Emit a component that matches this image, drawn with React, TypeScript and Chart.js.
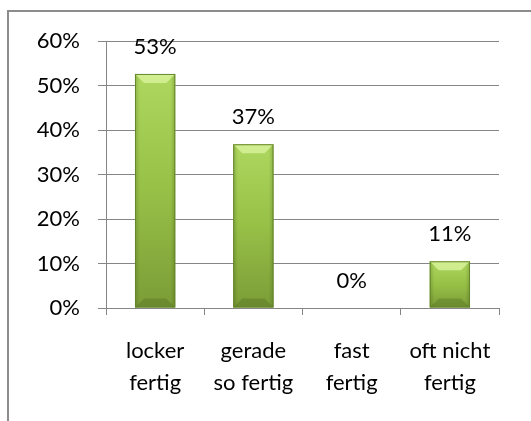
import React, { useEffect, useRef } from 'react';
import { Chart, registerables } from 'chart.js';
Chart.register(...registerables);

const categories: string[][] = [
  ['locker', 'fertig'],
  ['gerade', 'so fertig'],
  ['fast', 'fertig'],
  ['oft nicht', 'fertig'],
];
const values: number[] = [52.6, 36.8, 0, 10.5];
const yMax = 60;
const yStep = 10;

const FONT = 'Lato, "Noto Sans", sans-serif';
const FONT_SIZE = 22;

const bevelPlugin = {
  id: 'bevel',
  afterDatasetsDraw(chart: any) {
    const ctx: CanvasRenderingContext2D = chart.ctx;
    const meta = chart.getDatasetMeta(0);
    meta.data.forEach((bar: any) => {
      const { x, y, base, width } = bar.getProps(['x', 'y', 'base', 'width'], true);
      const left = x - width / 2;
      const right = x + width / 2;
      const top = Math.min(y, base);
      const bottom = Math.max(y, base);
      const h = bottom - top;
      if (h < 1) return;
      const b = Math.min(9, h / 2, width / 2);
      ctx.save();
      const hg = ctx.createLinearGradient(left, 0, right, 0);
      hg.addColorStop(0, 'rgba(40,60,10,0.22)');
      hg.addColorStop(0.12, 'rgba(40,60,10,0)');
      hg.addColorStop(0.88, 'rgba(40,60,10,0)');
      hg.addColorStop(1, 'rgba(40,60,10,0.22)');
      ctx.fillStyle = hg;
      ctx.fillRect(left, top, width, h);
      // top bevel
      ctx.beginPath();
      ctx.moveTo(left, top);
      ctx.lineTo(right, top);
      ctx.lineTo(right - b, top + b);
      ctx.lineTo(left + b, top + b);
      ctx.closePath();
      ctx.fillStyle = 'rgba(220,245,160,0.75)';
      ctx.fill();
      // bottom bevel
      ctx.beginPath();
      ctx.moveTo(left, bottom);
      ctx.lineTo(right, bottom);
      ctx.lineTo(right - b, bottom - b);
      ctx.lineTo(left + b, bottom - b);
      ctx.closePath();
      ctx.fillStyle = 'rgba(70,95,25,0.3)';
      ctx.fill();
      ctx.strokeStyle = '#66862a';
      ctx.lineWidth = 1;
      ctx.strokeRect(left + 0.5, top + 0.5, width - 1, h - 1);
      ctx.restore();
    });
  },
};

const labelPlugin = {
  id: 'valueLabels',
  afterDatasetsDraw(chart: any) {
    const ctx: CanvasRenderingContext2D = chart.ctx;
    const meta = chart.getDatasetMeta(0);
    ctx.save();
    ctx.font = `${FONT_SIZE}px ${FONT}`;
    ctx.fillStyle = '#000';
    ctx.textAlign = 'center';
    ctx.textBaseline = 'alphabetic';
    meta.data.forEach((bar: any, i: number) => {
      const { x, y } = bar.getProps(['x', 'y'], true);
      ctx.fillText(Math.round(values[i]) + '%', x, y - 20);
    });
    ctx.restore();
  },
};

export default function App() {
  const ref = useRef<HTMLCanvasElement>(null);
  useEffect(() => {
    const chart = new Chart(ref.current!, {
      type: 'bar',
      data: {
        labels: categories,
        datasets: [
          {
            data: values,
            backgroundColor: (c: any) => {
              const chart = c.chart;
              if (!chart.chartArea || c.parsed == null) return '#98c14a';
              const ys = chart.scales.y;
              const t = ys.getPixelForValue(c.parsed.y);
              const b0 = ys.getPixelForValue(0);
              if (b0 - t < 1) return '#98c14a';
              const g = chart.ctx.createLinearGradient(0, t, 0, b0);
              g.addColorStop(0, '#aed75f');
              g.addColorStop(0.5, '#97c047');
              g.addColorStop(1, '#7b9c37');
              return g;
            },
            borderWidth: 0,
            barPercentage: 0.41,
            categoryPercentage: 1,
          },
        ],
      },
      options: {
        responsive: false,
        animation: false,
        devicePixelRatio: 1,
        layout: { padding: { top: 41, right: 32, left: 0, bottom: 0 } },
        plugins: { legend: { display: false }, tooltip: { enabled: false } },
        scales: {
          y: {
            min: 0,
            max: yMax,
            ticks: {
              stepSize: yStep,
              callback: (v: any) => v + '%',
              font: { family: FONT, size: FONT_SIZE },
              color: '#000',
              padding: 18,
            },
            grid: { color: '#868686', tickLength: 8, lineWidth: 1 },
            border: { color: '#868686', width: 1 },
            afterFit: (s: any) => {
              s.width = 106;
            },
          },
          x: {
            offset: true,
            ticks: {
              font: { family: FONT, size: FONT_SIZE, lineHeight: 1.44 },
              color: '#000',
              padding: 20,
              maxRotation: 0,
              autoSkip: false,
            },
            grid: { drawOnChartArea: false, color: '#868686', tickLength: 7, offset: true },
            border: { color: '#868686', width: 1 },
            afterFit: (s: any) => {
              s.height = 113;
            },
          },
        },
      },
      plugins: [bevelPlugin, labelPlugin],
    } as any);
    return () => chart.destroy();
  }, []);
  return (
    <div style={{ position: 'absolute', left: 0, top: 0, width: 531, height: 421, background: '#fff' }}>
      <div
        style={{
          position: 'absolute',
          left: 7,
          top: 10,
          right: 0,
          bottom: 0,
          borderTop: '2px solid #8c8c8c',
          borderLeft: '2px solid #8c8c8c',
        }}
      />
      <canvas
        ref={ref}
        width={531}
        height={421}
        style={{ position: 'absolute', left: 0, top: 0, width: 531, height: 421 }}
      />
    </div>
  );
}
